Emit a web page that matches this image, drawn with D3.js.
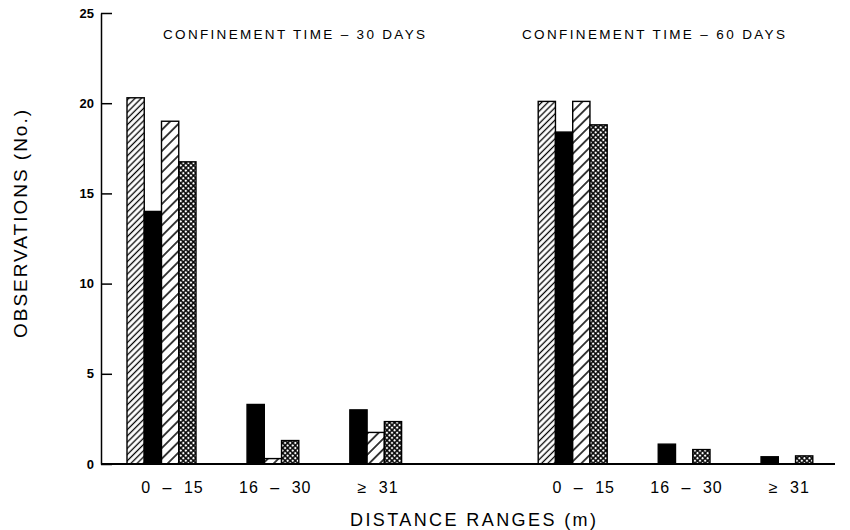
<!DOCTYPE html>
<html>
<head>
<meta charset="utf-8">
<script src="https://cdn.jsdelivr.net/npm/d3@7"></script>
<style>
  html, body { margin: 0; padding: 0; background: #fff; }
  svg { display: block; }
  text { font-family: "Liberation Sans", Arial, sans-serif; fill: #000; }
</style>
</head>
<body>
<svg id="chart" width="850" height="530"></svg>
<script>
// ---------------- data ----------------
const periods = ["CONFINEMENT TIME – 30 DAYS", "CONFINEMENT TIME – 60 DAYS"];
const ranges = ["0 – 15", "16 – 30", "≥ 31"];
const seriesNames = ["S1", "S2", "S3", "S4"];
// values per slot: 30 days (0-15, 16-30, >=31), then 60 days (0-15, 16-30, >=31)
const seriesS1 = [20.3, 0, 0, 20.1, 0, 0];            // dense hatch
const seriesS2 = [14.0, 3.3, 3.0, 18.4, 1.1, 0.4];    // solid black
const seriesS3 = [19.0, 0.3, 1.75, 20.1, 0, 0];       // sparse hatch
const seriesS4 = [16.75, 1.3, 2.35, 18.8, 0.8, 0.45]; // cross hatch
const yTicks = [0, 5, 10, 15, 20, 25];
const yLabel = "OBSERVATIONS (No.)";
const xLabel = "DISTANCE RANGES (m)";

// ---------------- layout ----------------
const svg = d3.select("#chart");
const axisX = 101, baseY = 464, topY = 13, rightX = 835;

const slots = [];
periods.forEach((p, pi) => {
  ranges.forEach((r, ri) => slots.push({ key: pi + "|" + ri, label: r, idx: pi * 3 + ri }));
  if (pi === 0) slots.push({ key: "gap", label: "", idx: -1 });
});

const x = d3.scaleBand().domain(slots.map(d => d.key)).range([110.1, 829.7]).padding(0);
const inner = d3.scaleBand().domain(seriesNames).range([-34.5, 34.5]).padding(0);
const y = d3.scaleLinear().domain([0, 25]).range([baseY, topY]);

const allSeries = [seriesS1, seriesS2, seriesS3, seriesS4];

// ---------------- patterns ----------------
const defs = svg.append("defs");
function hatch(id, w, sw) {
  const p = defs.append("pattern").attr("id", id).attr("patternUnits", "userSpaceOnUse")
    .attr("width", w).attr("height", w).attr("patternTransform", "rotate(45)");
  p.append("rect").attr("width", w).attr("height", w).attr("fill", "#fff");
  p.append("line").attr("x1", w / 2).attr("y1", 0).attr("x2", w / 2).attr("y2", w)
    .attr("stroke", "#000").attr("stroke-width", sw);
}
hatch("dense", 4.4, 1.3);
hatch("sparse", 7.5, 1.5);
(function () {
  const w = 3.6;
  const p = defs.append("pattern").attr("id", "cross").attr("patternUnits", "userSpaceOnUse")
    .attr("width", w).attr("height", w).attr("patternTransform", "rotate(45)");
  p.append("rect").attr("width", w).attr("height", w).attr("fill", "#fff");
  p.append("line").attr("x1", w / 2).attr("y1", 0).attr("x2", w / 2).attr("y2", w)
    .attr("stroke", "#000").attr("stroke-width", 1.5);
  p.append("line").attr("x1", 0).attr("y1", w / 2).attr("x2", w).attr("y2", w / 2)
    .attr("stroke", "#000").attr("stroke-width", 1.5);
})();
const fills = ["url(#dense)", "#000", "url(#sparse)", "url(#cross)"];

// ---------------- bars ----------------
const dataSlots = slots.filter(d => d.idx >= 0);
const barsG = svg.append("g");
dataSlots.forEach(s => {
  seriesNames.forEach((name, si) => {
    const v = allSeries[si][s.idx];
    if (!(v > 0)) return;
    barsG.append("rect")
      .attr("x", x(s.key) + x.bandwidth() / 2 + inner(name))
      .attr("y", y(v))
      .attr("width", inner.bandwidth())
      .attr("height", y(0) - y(v))
      .attr("fill", fills[si])
      .attr("stroke", "#000")
      .attr("stroke-width", 1.4);
  });
});

// ---------------- axes ----------------
const yAxis = d3.axisLeft(y).tickValues(yTicks).tickSizeInner(-11).tickSizeOuter(0).tickPadding(7);
const gy = svg.append("g").attr("transform", `translate(${axisX},0)`).call(yAxis);
gy.select(".domain").attr("stroke", "#000").attr("stroke-width", 1.5);
gy.selectAll(".tick line").attr("stroke", "#000").attr("stroke-width", 1.5);
gy.selectAll(".tick text").attr("font-size", 13).attr("font-weight", "bold")
  .attr("font-family", "'Liberation Sans', Arial, sans-serif");

svg.append("line").attr("x1", axisX).attr("x2", rightX).attr("y1", baseY).attr("y2", baseY)
  .attr("stroke", "#000").attr("stroke-width", 2);

const xAxis = d3.axisBottom(x).tickValues(dataSlots.map(d => d.key))
  .tickFormat(k => slots.find(s => s.key === k).label).tickSize(0).tickPadding(18);
const gx = svg.append("g").attr("transform", `translate(0,${baseY})`).call(xAxis);
gx.select(".domain").remove();
gx.selectAll(".tick text").attr("font-size", 16).attr("dx", 11)
  .attr("font-family", "'Liberation Sans', Arial, sans-serif")
  .attr("letter-spacing", 1).attr("word-spacing", 6);

// titles
svg.append("text").attr("x", 163).attr("y", 39)
  .attr("font-size", 13.5).attr("textLength", 262).attr("lengthAdjust", "spacing").text(periods[0]);
svg.append("text").attr("x", 522).attr("y", 39)
  .attr("font-size", 13.5).attr("textLength", 263).attr("lengthAdjust", "spacing").text(periods[1]);

// axis titles
svg.append("text").attr("x", 350).attr("y", 526)
  .attr("font-size", 18).attr("textLength", 246).attr("lengthAdjust", "spacing").text(xLabel);
svg.append("text").attr("transform", "translate(27,338) rotate(-90)")
  .attr("font-size", 19).attr("textLength", 228).attr("lengthAdjust", "spacing").text(yLabel);
</script>
</body>
</html>
